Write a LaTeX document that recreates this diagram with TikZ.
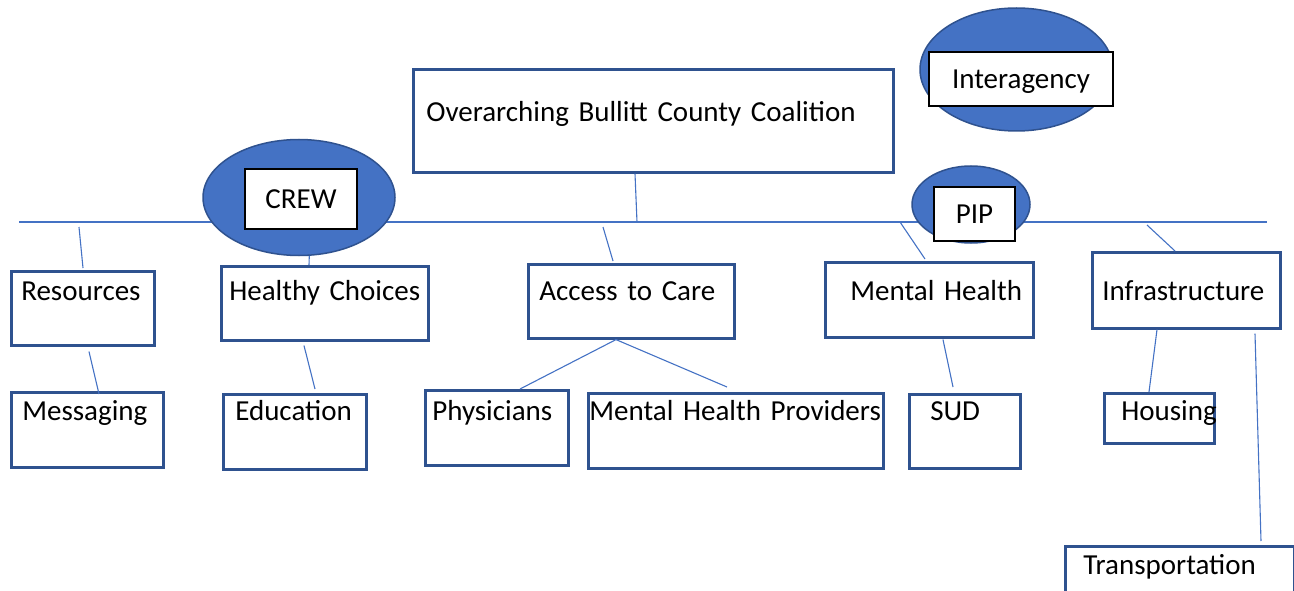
\documentclass[tikz,border=0pt]{standalone}
\usepackage{fontspec}
\setmainfont{Carlito}
\usetikzlibrary{shapes.geometric}
\definecolor{boxblue}{HTML}{2F528F}
\definecolor{hubblue}{HTML}{4472C4}
\definecolor{lineblue}{HTML}{4472C4}
\hyphenpenalty=10000

\begin{document}
\begin{tikzpicture}[x=1pt, y=-1pt, font=\fontsize{29}{35}\selectfont]
            \tikzstyle{block} = [draw=boxblue, line width=2.6pt, fill=white,
                rectangle, anchor=north west, inner sep=0pt, align=left]
            \tikzstyle{hub} = [draw=boxblue, fill=hubblue, ellipse,
                line width=1.5pt, inner sep=0pt]
            \tikzstyle{tag} = [draw=black, fill=white, rectangle, line width=1.8pt,
                inner sep=0pt, text height=19pt, text depth=0pt]
            \tikzstyle{link} = [draw=lineblue, line width=1.1pt]
            \useasboundingbox (0,0) rectangle (1294,591);
            \clip (0,0) rectangle (1294,591);

            % main bar
            \coordinate (busL) at (19,222);
            \coordinate (busR) at (1267,222);
            \draw [link] (busL) -- (busR);
            \coordinate (jres) at (79,227);
            \coordinate (jcoal) at (637,222);
            \coordinate (jacc) at (603,227);
            \coordinate (jmh) at (900,222);
            \coordinate (jinf) at (1147,225);

            \node [block, text width=480pt, text height=52pt, text depth=51pt] (coal) at (412,68)
                {\hspace*{13pt}Overarching Bullitt County Coalition};

            \node [hub, minimum width=192pt, minimum height=116pt] (crew) at (299,197.5) {};
            \node [tag, minimum width=112pt, minimum height=60pt] (crewtag) at (301,199) {CREW};
            \node [hub, minimum width=193pt, minimum height=123pt] (inter) at (1016.5,69.5) {};
            \node [tag, minimum width=184pt, minimum height=54pt] (intertag) at (1021,79) {Interagency};
            \node [hub, minimum width=118pt, minimum height=77pt] (pip) at (971,204.5) {};
            \node [tag, minimum width=81pt, minimum height=54pt] (piptag) at (974.5,214) {PIP};

            % first row
            \node [block, text width=143pt, text height=29pt, text depth=45pt] (res) at (10,270)
                {\hspace*{10pt}Resources};
            \node [block, text width=207pt, text height=34pt, text depth=40pt] (hc) at (220,265)
                {\hspace*{8pt}Healthy Choices};
            \node [block, text width=206pt, text height=36pt, text depth=38pt] (acc) at (527,263)
                {\hspace*{11pt}Access to Care};
            \node [block, text width=208pt, text height=38pt, text depth=37pt] (mh) at (824,261)
                {\hspace*{25pt}Mental Health};
            \node [block, text width=188pt, text height=48pt, text depth=28pt] (inf) at (1091,251)
                {\hspace*{10pt}Infrastructure};

            % second row
            \node [block, text width=152pt, text height=28pt, text depth=47pt] (msg) at (10,391)
                {\hspace*{11pt}Messaging};
            \node [block, text width=143pt, text height=26pt, text depth=49pt] (edu) at (222,393)
                {\hspace*{12pt}Education};
            \node [block, text width=143pt, text height=30pt, text depth=45pt] (phy) at (424,389)
                {\hspace*{7pt}Physicians};
            \node [block, text width=295pt, text height=27pt, text depth=48pt] (mhp) at (587,392)
                {\hspace*{1pt}Mental Health Providers};
            \node [block, text width=111pt, text height=26pt, text depth=48pt] (sud) at (908,393)
                {\hspace*{21pt}SUD};
            \node [block, text width=110pt, text height=27pt, text depth=23pt] (hou) at (1103,392)
                {\hspace*{17pt}Housing};
            \node [block, text width=229pt, text height=28pt, text depth=47pt] (tra) at (1064,545)
                {\hspace*{18pt}Transportation};

            \draw [link] ([xshift=223pt]coal.south west) -- (jcoal);
            \draw [link] (jres) -- ([xshift=73pt,yshift=2pt]res.north west);
            \draw [link] (crew.-80) -- ([xshift=89pt]hc.north west);
            \draw [link] (jacc) -- ([xshift=86pt,yshift=2pt]acc.north west);
            \draw [link] (jmh) -- ([xshift=101pt,yshift=2pt]mh.north west);
            \draw [link] (jinf) -- ([xshift=84pt]inf.north west);
            \draw [link] ([xshift=79pt,yshift=-5pt]res.south west) -- ([xshift=89pt,yshift=-3pt]msg.north west);
            \draw [link] ([xshift=84pt,yshift=-4pt]hc.south west) -- ([xshift=93pt,yshift=4pt]edu.north west);
            \draw [link] ([xshift=89pt]acc.south west) -- ([xshift=96pt]phy.north west);
            \draw [link] ([xshift=89pt]acc.south west) -- ([xshift=140pt,yshift=5pt]mhp.north west);
            \draw [link] ([xshift=119pt,yshift=-1pt]mh.south west) -- ([xshift=45pt,yshift=6pt]sud.north west);
            \draw [link] ([xshift=66pt]inf.south west) -- ([xshift=46pt]hou.north west);
            \draw [link] ([xshift=164pt,yshift=-4pt]inf.south west) -- ([xshift=197pt,yshift=4pt]tra.north west);
        \end{tikzpicture}
\end{document}
